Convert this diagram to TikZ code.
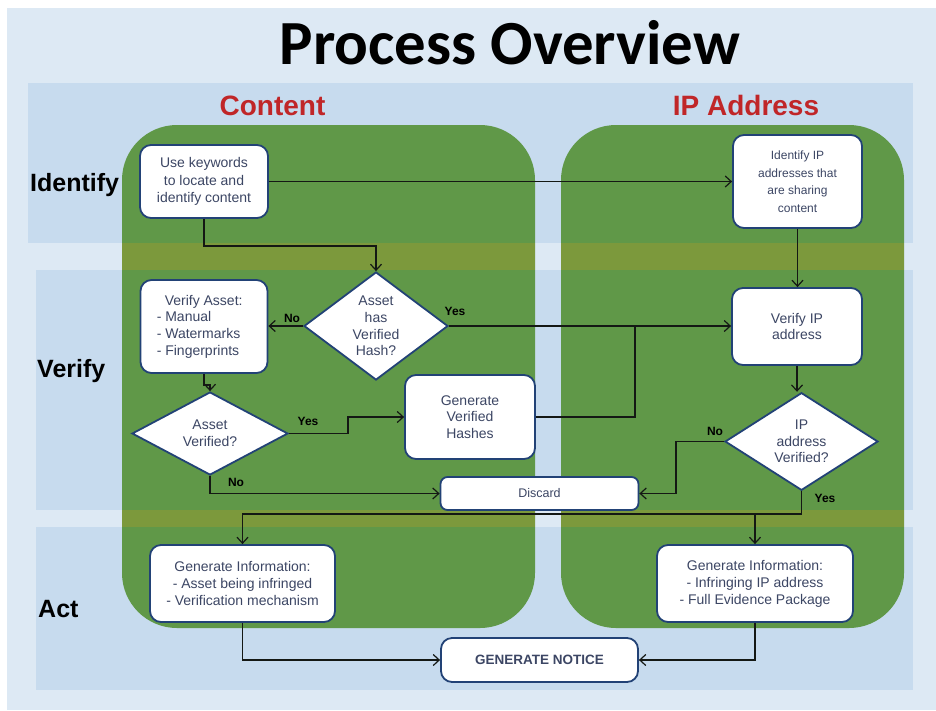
\documentclass[tikz,border=0pt]{standalone}
\usepackage{fontspec}
\setmainfont{Liberation Sans}
\newfontfamily\headfont{Carlito}
\usetikzlibrary{shapes.geometric,arrows.meta}

\definecolor{pagebg}{RGB}{221,233,244}
\definecolor{bandbg}{RGB}{199,219,238}
\definecolor{lanegreen}{RGB}{96,152,72}
\definecolor{laneolive}{RGB}{124,153,60}
\definecolor{boxblue}{RGB}{34,66,118}
\definecolor{nodetext}{RGB}{60,70,100}
\definecolor{headred}{RGB}{192,38,40}
\definecolor{linecol}{RGB}{20,24,20}

\begin{document}
\begin{tikzpicture}[x=1pt,y=-1pt,
  box/.style={draw=boxblue, line width=1.8pt, fill=white, rounded corners=11pt,
    inner sep=0pt, align=center, text=nodetext,
    font=\fontsize{14}{16.7}\selectfont},
  smallbox/.style={box, font=\fontsize{12}{17.5}\selectfont},
  infobox/.style={box, font=\fontsize{14}{17}\selectfont},
  dia/.style={diamond, draw=boxblue, line width=1.8pt, fill=white, inner sep=0pt,
    align=center, text=nodetext, font=\fontsize{14}{16.7}\selectfont},
  link/.style={draw=linecol, line width=1.4pt},
  arrowlink/.style={link, -{Straight Barb[length=6pt,width=11pt,line width=1.2pt]}},
  yn/.style={font=\bfseries\fontsize{12}{14}\selectfont, text=black, inner sep=0pt},
  rowlabel/.style={font=\bfseries\fontsize{25}{28}\selectfont, text=black, inner sep=0pt, anchor=base west},
  lanehead/.style={font=\bfseries\fontsize{28}{32}\selectfont, text=headred, inner sep=0pt, anchor=base}
]
\useasboundingbox (0,0) rectangle (936,710);

% page and the three row bands
\fill[white] (0,0) rectangle (936,710);
\fill[pagebg] (7,8) rectangle (936,710);
\fill[bandbg] (28,83) rectangle (913,243);
\fill[bandbg] (36,270) rectangle (913,510);
\fill[bandbg] (36,527) rectangle (913,690);

% the two swim lanes
\fill[lanegreen, rounded corners=55pt] (122,125) rectangle (535,628);
\fill[lanegreen, rounded corners=55pt] (561,125) rectangle (904,628);
\fill[laneolive] (122,243) rectangle (535,270);
\fill[laneolive] (561,243) rectangle (904,270);
\fill[laneolive] (122,510) rectangle (535,527);
\fill[laneolive] (561,510) rectangle (904,527);

% title, lane headers and row labels
\node[font=\headfont\bfseries\fontsize{62.8}{68}\selectfont, anchor=base, inner sep=0pt] (title) at (510,64) {Process Overview};
\node[lanehead] (hcontent) at (272.5,115) {Content};
\node[lanehead] (hip) at (746,115) {IP Address};
\node[rowlabel] (ridentify) at (30,191) {Identify};
\node[rowlabel] (rverify) at (37,377) {Verify};
\node[rowlabel] (ract) at (38,617) {Act};

% process steps
\node[box, font=\fontsize{14}{17.5}\selectfont, minimum width=128pt, minimum height=73pt] (keywords) at (204,181.5)
  {Use keywords\\to locate and\\identify content};
\node[smallbox, minimum width=129pt, minimum height=93pt] (findip) at (797.5,181.5)
  {Identify IP\\addresses that\\are sharing\\content};
\node[box, minimum width=127pt, minimum height=93pt, align=left] (verasset) at (204,326.5)
  {\hspace*{8pt}Verify Asset:\\- Manual\\- Watermarks\\- Fingerprints\hspace*{12pt}};
\node[box, minimum width=130pt, minimum height=77pt] (verip) at (797,326.5)
  {Verify IP\\address};
\node[box, minimum width=130pt, minimum height=84pt] (genhash) at (470,417)
  {Generate\\Verified\\Hashes};
\node[box, font=\fontsize{12.5}{15}\selectfont, rounded corners=7pt, minimum width=198pt, minimum height=33pt] (discard) at (539.5,493.5)
  {Discard};
\node[infobox, minimum width=185pt, minimum height=77pt] (infoasset) at (242.5,583.5)
  {Generate Information:\\- Asset being infringed\\- Verification mechanism};
\node[infobox, minimum width=196pt, minimum height=77pt] (infoip) at (755,583.5)
  {Generate Information:\\- Infringing IP address\\- Full Evidence Package};
\node[box, font=\bfseries\fontsize{13.5}{15}\selectfont, minimum width=197pt, minimum height=44pt] (notice) at (539.5,660)
  {GENERATE NOTICE};

% decisions
\node[dia, minimum width=144pt, minimum height=108pt] (hashq) at (376,326)
  {Asset\\has\\Verified\\Hash?};
\node[dia, minimum width=156pt, minimum height=83pt] (assetq) at (210,433.5)
  {Asset\\Verified?};
\node[dia, minimum width=153pt, minimum height=83pt] (ipq) at (801.5,441.5)
  {IP\\address\\Verified?};

% junction points
\coordinate (hashjoin) at (635,326);
\coordinate (yesbus) at (242.5,514);

% connectors
\draw[arrowlink] (keywords.east) -- (findip.west |- keywords.east);
\draw[arrowlink] (keywords.south) -- ++(0,27) -| (hashq.north);
\draw[arrowlink] (hashq.west) -- (hashq.west -| verasset.east);
\draw[arrowlink] (hashq.east) -- (hashq.east -| verip.west);
\draw[arrowlink] (verasset.south) -- ++(0,11) -| (assetq.north);
\draw[arrowlink] (assetq.east) -- ++(59,0) |- (genhash.west);
\draw[arrowlink] (assetq.south) |- (discard.west);
\draw[link] (genhash.east) -| (hashjoin);
\draw[arrowlink] (findip.south) -- (findip.south |- verip.north);
\draw[arrowlink] (verip.south) -- (verip.south |- ipq.north);
\draw[arrowlink] (ipq.west) -- ++(-48,0) |- (discard.east);
\draw[arrowlink] (ipq.south) |- (yesbus) -- (infoasset.north);
\draw[arrowlink] (infoip.north |- yesbus) -- (infoip.north);
\draw[arrowlink] (infoasset.south) |- (notice.west);
\draw[arrowlink] (infoip.south) |- (notice.east);

% branch labels
\node[yn] (nohash) at (292,318) {No};
\node[yn] (yeshash) at (455,311) {Yes};
\node[yn] (yesasset) at (308,421) {Yes};
\node[yn] (noasset) at (236,482) {No};
\node[yn] (noip) at (715,431) {No};
\node[yn] (yesip) at (825,498) {Yes};
\end{tikzpicture}
\end{document}
